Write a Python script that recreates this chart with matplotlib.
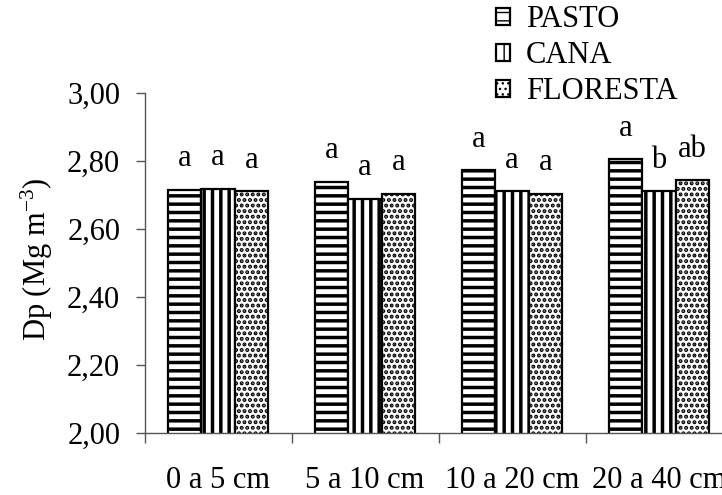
import matplotlib
matplotlib.use("Agg")
import matplotlib.pyplot as plt
import numpy as np

# ---- data ----
categories = ["0 a 5 cm", "5 a 10 cm", "10 a 20 cm", "20 a 40 cm"]
series_names = ["PASTO", "CANA", "FLORESTA"]
pasto = [2.716, 2.738, 2.773, 2.805]
cana = [2.718, 2.689, 2.711, 2.711]
floresta = [2.711, 2.704, 2.704, 2.743]
pasto_letters = ["a", "a", "a", "a"]
cana_letters = ["a", "a", "a", "b"]
floresta_letters = ["a", "a", "a", "ab"]
y_ticks = [2.00, 2.20, 2.40, 2.60, 2.80, 3.00]
y_tick_labels = ["2,00", "2,20", "2,40", "2,60", "2,80", "3,00"]

plt.rcParams["font.family"] = ["Liberation Serif", "DejaVu Serif"]
plt.rcParams["mathtext.fontset"] = "custom"
plt.rcParams["mathtext.rm"] = "Liberation Serif"
plt.rcParams["mathtext.it"] = "Liberation Serif:italic"

FS = 22

fig = plt.figure(figsize=(7.22, 4.95), dpi=100)
ax = fig.add_axes([144.5 / 722, 62 / 495, 588 / 722, 340 / 495])

x = np.arange(len(categories))
w = 0.228
hatches = ["--", "||", "..."]
hatch_lws = [2.5, 2.5, 2.0]
data = [pasto, cana, floresta]
letters = [pasto_letters, cana_letters, floresta_letters]
for i, (vals, h, hlw, name, lets) in enumerate(zip(data, hatches, hatch_lws, series_names, letters)):
    xs = x + (i - 1) * w
    with plt.rc_context({"hatch.linewidth": hlw}):
        bars = ax.bar(xs, vals, width=w, bottom=0, color="white", edgecolor="black",
                      hatch=h, linewidth=1.6, label=name)
    for xi, v, t in zip(xs, vals, lets):
        ax.annotate(t, (xi, v), xytext=(0, 17), textcoords="offset points",
                    ha="center", va="baseline", fontsize=FS)

ax.set_ylim(2.0, 3.0)
ax.set_xlim(-0.5, len(categories) - 0.5)
ax.set_yticks(y_ticks)
ax.set_yticklabels(y_tick_labels, fontsize=FS)
ax.set_xticks(np.arange(len(categories) + 1) - 0.5)
ax.set_xticklabels([])
ax.set_xticks(x, minor=True)
ax.set_xticklabels(categories, minor=True, fontsize=FS)
ax.tick_params(axis="x", which="major", direction="out", length=7, width=1, color="#555555")
ax.tick_params(axis="x", which="minor", length=0, pad=24)
ax.tick_params(axis="y", direction="out", length=6.5, width=1, color="#555555", pad=11)
for s in ["top", "right"]:
    ax.spines[s].set_visible(False)
for s in ["left", "bottom"]:
    ax.spines[s].set_color("#555555")
    ax.spines[s].set_linewidth(1)

fig.text(37 / 722, 1 - 259 / 495, r"Dp (Mg m$^{\mathregular{-3}}$)", rotation=90,
         ha="center", va="center", fontsize=FS)

leg = fig.legend(loc="upper left", bbox_to_anchor=(496 / 722, 1 - 5 / 495),
                 frameon=False, fontsize=FS, handlelength=0.47, handleheight=0.47,
                 handletextpad=0.5, labelspacing=0.23, borderpad=0, borderaxespad=0)

fig.savefig("out.png", dpi=100)
